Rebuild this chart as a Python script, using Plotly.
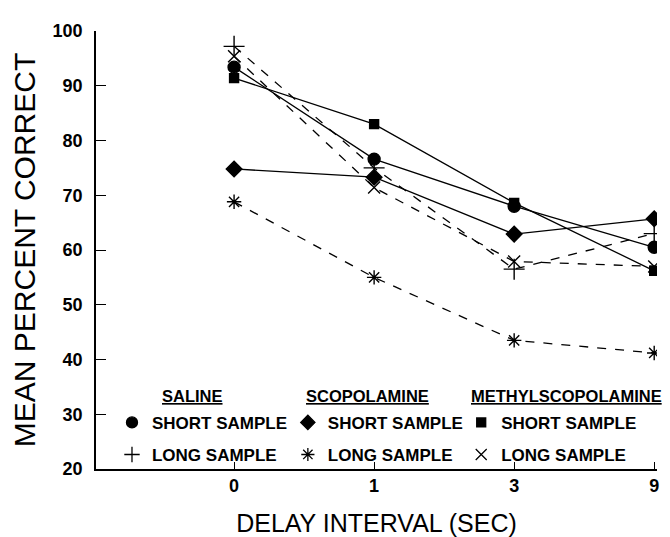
import plotly.graph_objects as go

delays = ["0", "1", "3", "9"]

saline_short = [93.4, 76.6, 68.0, 60.5]
saline_long = [97.2, 75.0, 56.5, 63.0]
scop_short = [74.8, 73.3, 62.9, 65.7]
scop_long = [68.8, 55.0, 43.5, 41.2]
methyl_short = [91.4, 83.0, 68.6, 56.2]
methyl_long = [95.4, 71.4, 57.9, 57.0]

y_ticks = [20, 30, 40, 50, 60, 70, 80, 90, 100]

FONT = "Liberation Sans, Arial, sans-serif"

series = [
    ("SHORT SAMPLE", saline_short, "circle", 12, "solid", "legend"),
    ("LONG SAMPLE", saline_long, "cross-thin-open", 15, "dash", "legend"),
    ("SHORT SAMPLE", scop_short, "diamond", 12, "solid", "legend2"),
    ("LONG SAMPLE", scop_long, "asterisk-open", 12, "dash", "legend2"),
    ("SHORT SAMPLE", methyl_short, "square", 9, "solid", "legend3"),
    ("LONG SAMPLE", methyl_long, "x-thin-open", 12, "dash", "legend3"),
]

fig = go.Figure()
for i, (name, vals, sym, size, dash, leg) in enumerate(series):
    fig.add_trace(go.Scatter(
        x=delays, y=vals, mode="lines+markers", showlegend=False,
        line=dict(color="black", width=1.3, dash=dash),
        marker=dict(symbol=sym, size=size, color="black",
                    line=dict(color="black", width=1.4)),
    ))
for i, (name, vals, sym, size, dash, leg) in enumerate(series):
    fig.add_trace(go.Scatter(
        x=[None], y=[None], mode="markers", name=name, legend=leg,
        legendgroup=f"g{i}",
        marker=dict(symbol=sym, size=min(size, 11), color="black",
                    line=dict(color="black", width=1.3)),
    ))

leg_common = dict(font=dict(family=FONT, size=17, color="black", weight="bold"),
                  bgcolor="rgba(0,0,0,0)", borderwidth=0, itemwidth=30,
                  tracegroupgap=7, xanchor="left", yanchor="top")

fig.update_layout(
    width=670, height=537,
    paper_bgcolor="white", plot_bgcolor="white",
    margin=dict(l=88, r=21, t=23, b=76),
    font=dict(family=FONT, color="black"),
    xaxis=dict(
        type="category", range=[-0.986, 3.02],
        showgrid=False, zeroline=False,
        showline=True, linecolor="black", linewidth=1.5,
        ticks="inside", ticklen=7, tickcolor="black", tickwidth=1.2,
        tickfont=dict(family=FONT, size=18, color="black", weight="bold"),
        title=dict(text="DELAY INTERVAL (SEC)",
                   font=dict(family=FONT, size=25, color="black"),
                   standoff=19),
    ),
    yaxis=dict(
        range=[20, 100], tickvals=y_ticks,
        showgrid=False, zeroline=False,
        showline=True, linecolor="black", linewidth=1.5,
        ticks="inside", ticklen=10, tickcolor="black", tickwidth=1.2,
        ticklabelstandoff=8,
        tickfont=dict(family=FONT, size=18, color="black", weight="bold"),
        title=dict(text="MEAN PERCENT CORRECT",
                   font=dict(family=FONT, size=30, color="black"),
                   standoff=9),
    ),
    legend=dict(x=0.0285, y=0.1465, **leg_common),
    legend2=dict(x=0.342, y=0.1465, **leg_common),
    legend3=dict(x=0.651, y=0.1465, **leg_common),
)

headers = [("SALINE", 0.114), ("SCOPOLAMINE", 0.371), ("METHYLSCOPOLAMINE", 0.665)]
for text, xp in headers:
    fig.add_annotation(
        text=f"<u>{text}</u>", xref="paper", yref="paper", x=xp, y=0.167,
        xanchor="left", yanchor="middle", showarrow=False,
        font=dict(family=FONT, size=16.5, color="black", weight="bold"),
    )

fig.write_html("out.html")
